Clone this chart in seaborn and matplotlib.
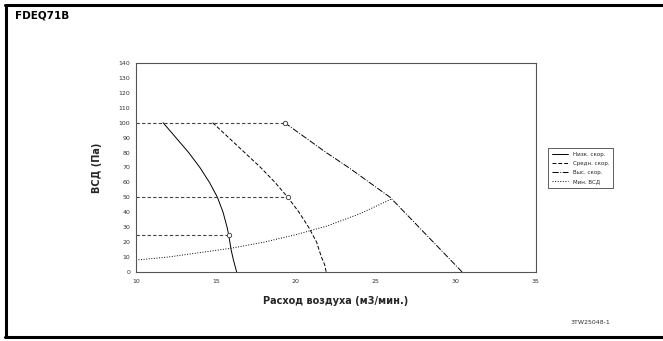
import matplotlib
matplotlib.use("Agg")
import matplotlib.pyplot as plt
from matplotlib.lines import Line2D
import pandas as pd
import seaborn as sns

# fan curves (air flow m3/min, ESP Pa)
low_flow = [11.7, 12.5, 13.3, 14.0, 14.6, 15.1, 15.45, 15.7, 15.8, 15.95, 16.1, 16.3]
low_esp = [100, 90, 80, 70, 60, 50, 40, 30, 25, 15, 8, 0]

mid_flow = [14.8, 15.8, 16.8, 17.8, 18.7, 19.5, 20.2, 20.8, 21.3, 21.6, 21.8, 21.9]
mid_esp = [100, 90, 80, 70, 60, 50, 40, 30, 20, 10, 5, 0]

high_flow = [19.3, 20.6, 21.9, 23.3, 24.6, 25.9, 26.8, 27.7, 28.6, 29.5, 30.4]
high_esp = [100, 90, 80, 70, 60, 50, 40, 30, 20, 10, 0]

min_flow = [10, 12, 14, 16, 18, 20, 22, 24, 26]
min_esp = [8, 10, 13, 16, 20, 25, 31, 39, 49]

# rated points (circles) and the guide lines to them
rated_flow = [15.8, 19.5, 19.3]
rated_esp = [25, 50, 100]

labels = ["Низк. скор.", "Средн. скор.", "Выс. скор.", "Мин. ВСД"]
styles = ["-", (0, (4, 2)), "-.", ":"]

sns.set_style("white")
plt.rcParams["font.family"] = ["DejaVu Sans"]

fig = plt.figure(figsize=(6.63, 3.41), dpi=100)
ax = fig.add_axes([0.205, 0.2023, 0.603, 0.6130])

curves = [(low_flow, low_esp), (mid_flow, mid_esp), (high_flow, high_esp), (min_flow, min_esp)]
for (fx, fy), lab, ls in zip(curves, labels, styles):
    df = pd.DataFrame({"flow": fx, "esp": fy})
    sns.lineplot(data=df, x="flow", y="esp", ax=ax, color="black", lw=0.7,
                 linestyle=ls, sort=False, estimator=None, label=lab)

for fx, fy in zip(rated_flow, rated_esp):
    ax.plot([10, fx], [fy, fy], color="#444444", lw=0.8, linestyle=(0, (3, 2)))
ax.scatter(rated_flow, rated_esp, s=10, facecolor="white", edgecolor="#333333",
           linewidth=0.6, zorder=5)

ax.set_xlim(10, 35)
ax.set_ylim(0, 140)
ax.set_xticks([10, 15, 20, 25, 30, 35])
ax.set_yticks(range(0, 141, 10))
ax.tick_params(axis="both", labelsize=4.5, length=2, width=0.5, pad=2,
               colors="#333333")
ax.tick_params(axis="x", length=0, pad=5)
for sp in ax.spines.values():
    sp.set_color("#555555")
    sp.set_linewidth(0.8)

ax.set_xlabel("Расход воздуха (м3/мин.)", fontsize=7, fontweight="bold", labelpad=9)
ax.set_ylabel("ВСД (Па)", fontsize=7, fontweight="bold", labelpad=12)

ax.legend(loc="upper left", bbox_to_anchor=(0.822, 0.575), bbox_transform=fig.transFigure,
          fontsize=4, frameon=True, fancybox=False, edgecolor="#444444",
          framealpha=1, handlelength=3, borderpad=0.7, labelspacing=0.75)
ax.get_legend().get_frame().set_linewidth(0.6)

# page frame, title and drawing number
fig.add_artist(Line2D([6 / 663, 6 / 663], [4 / 341, 336 / 341], color="black", lw=2.2,
                      transform=fig.transFigure))
fig.add_artist(Line2D([5 / 663, 1.0], [336 / 341, 336 / 341], color="black", lw=2.2,
                      transform=fig.transFigure))
fig.add_artist(Line2D([5 / 663, 1.0], [4 / 341, 4 / 341], color="black", lw=2.2,
                      transform=fig.transFigure))
fig.text(15 / 663, 1 - 16 / 341, "FDEQ71B", fontsize=7.5, fontweight="bold",
         va="center", ha="left", color="black")
fig.text(590 / 663, 1 - 322 / 341, "3TW25048-1", fontsize=4.5, va="center",
         ha="center", color="#333333")

plt.savefig("out.png", dpi=100)
plt.close("all")
